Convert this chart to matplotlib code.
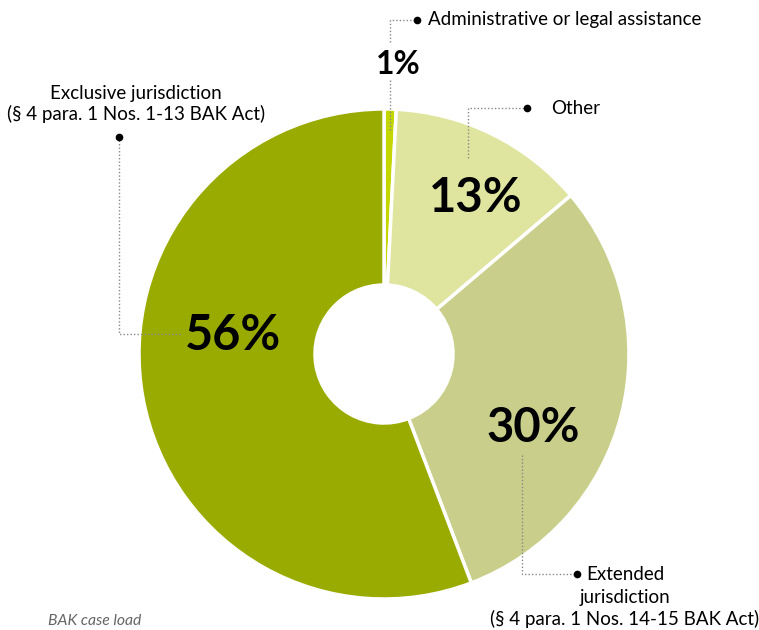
import matplotlib
matplotlib.use("Agg")
import matplotlib.pyplot as plt

categories = ["Administrative or legal assistance", "Other",
              "Extended jurisdiction\n(§ 4 para. 1 Nos. 14-15 BAK Act)",
              "Exclusive jurisdiction\n(§ 4 para. 1 Nos. 1-13 BAK Act)"]
shares = [0.8, 13.0, 30.4, 55.8]
pct_labels = ["1%", "13%", "30%", "56%"]
colors = ["#c4d600", "#dfe59f", "#c9cf8a", "#9aab00"]

W, H = 759, 630
fig = plt.figure(figsize=(W / 100, H / 100), dpi=100)
ax = fig.add_axes([0, 0, 1, 1])

def Y(y):
    return H - y

cx, cy = 384, 354
R, r = 245, 69
ax.pie(shares, colors=colors, startangle=90, counterclock=False,
       center=(cx, Y(cy)), radius=R, frame=True,
       wedgeprops=dict(width=R - r, edgecolor="white", linewidth=2.5))
ax.set_xlim(0, W)
ax.set_ylim(0, H)
ax.set_aspect("equal")
ax.axis("off")

font = "Lato"
fs = 13.5
dot_kw = dict(color="#888888", linestyle=(0, (1, 1.5)), linewidth=1.0)

def leader(points, end):
    xs = [p[0] for p in points]
    ys = [Y(p[1]) for p in points]
    ax.plot(xs, ys, **dot_kw, zorder=5)
    ax.plot([end[0]], [Y(end[1])], "o", color="black", markersize=4.5, zorder=6)

# Percent labels
ax.text(398, Y(65), pct_labels[0], fontsize=23, fontweight="bold", family=font,
        ha="center", va="center", color="black")
ax.text(476, Y(198), pct_labels[1], fontsize=34, fontweight="bold", family=font,
        ha="center", va="center", color="black")
ax.text(533, Y(428), pct_labels[2], fontsize=34, fontweight="bold", family=font,
        ha="center", va="center", color="black")
ax.text(233, Y(335), pct_labels[3], fontsize=35, fontweight="bold", family=font,
        ha="center", va="center", color="black")

# Administrative
ax.plot([390, 390], [Y(130), Y(80)], **dot_kw, zorder=5)
leader([(390, 42), (390, 20), (417, 20)], (417, 20))
ax.text(428, Y(20), categories[0], fontsize=fs, family=font, ha="left",
        va="center", color="black")

# Other
leader([(468, 158), (468, 108), (527, 108)], (527, 108))
ax.text(551, Y(108), categories[1], fontsize=fs, family=font, ha="left",
        va="center", color="black")

# Exclusive
leader([(180, 334), (119, 334), (119, 137)], (119, 137))
ax.text(136, Y(104), categories[3], fontsize=fs, family=font, ha="center",
        va="center", color="black", linespacing=1.2)

# Extended
leader([(522, 455), (522, 574), (577, 574)], (577, 574))
ext = categories[2].split("\n")
ax.text(586, Y(574), "Extended", fontsize=fs, family=font, ha="left",
        va="center", color="black")
ax.text(625, Y(597), "jurisdiction", fontsize=fs, family=font, ha="center",
        va="center", color="black")
ax.text(625, Y(619), ext[1], fontsize=fs, family=font, ha="center",
        va="center", color="black")

ax.text(48, Y(621), "BAK case load", fontsize=11.3, family=font, style="italic",
        ha="left", va="center", color="#666666")

fig.savefig("out.png", dpi=100)
